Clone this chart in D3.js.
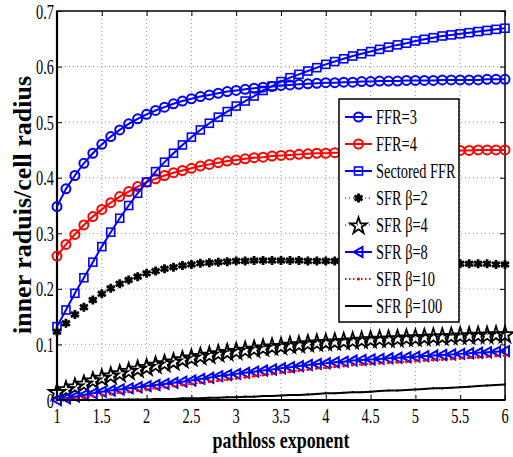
<!DOCTYPE html>
<html>
<head>
<meta charset="utf-8">
<script src="https://cdn.jsdelivr.net/npm/d3@7"></script>
<style>
  body { margin: 0; background: #fff; }
  text { font-family: "Liberation Serif", "Times New Roman", serif; }
</style>
</head>
<body>
<div id="chart"></div>
<script>
const exponents = [1.0, 1.1, 1.2, 1.3, 1.4, 1.5, 1.6, 1.7, 1.8, 1.9, 2.0, 2.1, 2.2, 2.3, 2.4, 2.5, 2.6, 2.7, 2.8, 2.9,
  3.0, 3.1, 3.2, 3.3, 3.4, 3.5, 3.6, 3.7, 3.8, 3.9, 4.0, 4.1, 4.2, 4.3, 4.4, 4.5, 4.6, 4.7, 4.8, 4.9,
  5.0, 5.1, 5.2, 5.3, 5.4, 5.5, 5.6, 5.7, 5.8, 5.9, 6.0];

const ffr3 = [.348, .380, .404, .426, .444, .460, .474, .486, .497, .506, .514, .521, .527, .533, .538, .542, .546, .549, .552, .555,
  .557, .559, .561, .563, .564, .566, .567, .568, .569, .570, .571, .571, .572, .572, .573, .573, .574, .574, .574, .575,
  .575, .575, .575, .576, .576, .576, .576, .576, .577, .577, .577];
const ffr4 = [.259, .280, .298, .315, .330, .343, .355, .366, .375, .384, .392, .398, .404, .409, .413, .417, .421, .424, .427, .430,
  .432, .434, .436, .437, .439, .440, .441, .442, .443, .444, .444, .445, .445, .446, .446, .447, .447, .447, .448, .448,
  .448, .448, .449, .449, .449, .449, .449, .450, .450, .450, .450];
const sectored = [.132, .162, .192, .220, .248, .276, .302, .327, .350, .372, .392, .411, .428, .444, .459, .473, .486, .498, .509, .519,
  .529, .538, .547, .557, .565, .573, .580, .586, .592, .598, .604, .609, .614, .619, .623, .627, .631, .635, .639, .642,
  .646, .649, .652, .655, .657, .659, .661, .663, .665, .667, .669];
const sfr2 = [.123, .138, .154, .167, .180, .191, .201, .209, .216, .222, .228, .232, .236, .239, .242, .244, .246, .247, .248, .249,
  .250, .250, .251, .251, .251, .251, .251, .251, .250, .250, .250, .250, .249, .249, .249, .248, .248, .248, .247, .247,
  .247, .246, .246, .246, .246, .245, .245, .245, .245, .244, .244];
const sfr4 = [.015, .020, .025, .030, .036, .041, .045, .049, .053, .057, .060, .064, .067, .070, .074, .077, .080, .082, .085, .087,
  .089, .091, .093, .095, .097, .098, .100, .101, .103, .104, .105, .106, .107, .108, .109, .110, .111, .111, .112, .113,
  .113, .114, .115, .115, .116, .117, .117, .118, .118, .119, .119];
const sfr8 = [.000, .003, .006, .009, .012, .015, .017, .019, .021, .023, .025, .027, .029, .031, .033, .035, .038, .040, .043, .045,
  .047, .049, .051, .053, .055, .057, .059, .061, .063, .065, .066, .068, .069, .071, .072, .073, .074, .075, .076, .077,
  .078, .079, .080, .081, .082, .083, .084, .085, .086, .087, .088];
const sfr10 = [.000, .001, .003, .005, .007, .009, .011, .013, .015, .017, .019, .021, .023, .025, .027, .029, .031, .033, .035, .037,
  .039, .041, .043, .045, .047, .049, .051, .053, .055, .057, .058, .060, .061, .063, .064, .065, .066, .067, .068, .069,
  .070, .071, .072, .073, .074, .075, .076, .077, .078, .079, .080];
const sfr100 = [.000, .000, .000, .000, .000, .000, .001, .001, .001, .001, .001, .002, .002, .002, .003, .003, .003, .004, .004, .005,
  .005, .006, .006, .007, .007, .008, .009, .009, .010, .011, .012, .012, .013, .014, .014, .015, .016, .017, .017, .018,
  .019, .020, .021, .021, .022, .023, .024, .025, .026, .027, .028];

const seriesNames = ["FFR=3", "FFR=4", "Sectored FFR", "SFR \u03b2=2", "SFR \u03b2=4", "SFR \u03b2=8", "SFR \u03b2=10", "SFR \u03b2=100"];
const xTicks = [1, 1.5, 2, 2.5, 3, 3.5, 4, 4.5, 5, 5.5, 6];
const yTicks = [0, 0.1, 0.2, 0.3, 0.4, 0.5, 0.6, 0.7];

const W = 513, H = 457;
const mLeft = 57, mRight = 505, mTop = 11, mBottom = 400;
const SX = 0.72; // glyphs in the picture are narrower than the font

const svg = d3.select("#chart").append("svg").attr("width", W).attr("height", H);

const x = d3.scaleLinear().domain([1, 6]).range([mLeft, mRight]);
const y = d3.scaleLinear().domain([0, 0.7]).range([mBottom, mTop]);

// grid
const grid = svg.append("g").attr("stroke", "#888").attr("stroke-width", 0.8).attr("stroke-dasharray", "1,3");
grid.selectAll(".gx").data(xTicks.slice(1, -1)).enter().append("line")
  .attr("x1", d => x(d)).attr("x2", d => x(d)).attr("y1", mTop).attr("y2", mBottom);
grid.selectAll(".gy").data(yTicks.slice(1, -1)).enter().append("line")
  .attr("y1", d => y(d)).attr("y2", d => y(d)).attr("x1", mLeft).attr("x2", mRight);

// axes: inward ticks on all sides
const bottomAxis = d3.axisBottom(x).tickValues(xTicks).tickSizeInner(-5).tickSizeOuter(0).tickFormat("");
const topAxis = d3.axisTop(x).tickValues(xTicks).tickSizeInner(-5).tickSizeOuter(0).tickFormat("");
const leftAxis = d3.axisLeft(y).tickValues(yTicks).tickSizeInner(-5).tickSizeOuter(0).tickFormat("");
const rightAxis = d3.axisRight(y).tickValues(yTicks).tickSizeInner(-5).tickSizeOuter(0).tickFormat("");
[[bottomAxis, `translate(0,${mBottom})`], [topAxis, `translate(0,${mTop})`],
 [leftAxis, `translate(${mLeft},0)`], [rightAxis, `translate(${mRight},0)`]].forEach(([ax, tr]) => {
  const g = svg.append("g").attr("transform", tr).call(ax);
  g.select(".domain").remove();
  g.selectAll("line").attr("stroke", "#000").attr("stroke-width", 1);
});

svg.append("rect").attr("x", mLeft).attr("y", mTop).attr("width", mRight - mLeft).attr("height", mBottom - mTop)
  .attr("fill", "none").attr("stroke", "#000").attr("stroke-width", 1.5);
svg.append("line").attr("x1", mLeft).attr("x2", mLeft).attr("y1", mTop).attr("y2", mBottom)
  .attr("stroke", "#000").attr("stroke-width", 2.2);
svg.append("line").attr("x1", mLeft).attr("x2", mRight).attr("y1", mBottom).attr("y2", mBottom)
  .attr("stroke", "#000").attr("stroke-width", 2.2);

// tick labels
svg.selectAll(".xl").data(xTicks).enter().append("text")
  .attr("transform", d => `translate(${x(d)},423) scale(${SX},1)`)
  .attr("text-anchor", "middle").attr("font-size", 20).text(d => d);
svg.selectAll(".yl").data(yTicks).enter().append("text")
  .attr("transform", d => `translate(54,${y(d) + 7.5}) scale(0.7,1)`)
  .attr("text-anchor", "end").attr("font-size", 20.5).text(d => d);

svg.append("text").attr("transform", `translate(${(mLeft + mRight) / 2},448) scale(0.78,1)`)
  .attr("text-anchor", "middle").attr("font-size", 23).attr("font-weight", "bold").text("pathloss exponent");
svg.append("text").attr("transform", `translate(31,205) rotate(-90)`)
  .attr("text-anchor", "middle").attr("font-size", 26).attr("font-weight", "bold").text("inner raduis/cell radius");

// marker shapes
function marker(g, kind, color) {
  if (kind === "circle") {
    g.append("circle").attr("r", 4.5).attr("fill", "none").attr("stroke", color).attr("stroke-width", 2);
  } else if (kind === "square") {
    g.append("rect").attr("x", -4).attr("y", -4).attr("width", 8).attr("height", 8)
      .attr("fill", "none").attr("stroke", color).attr("stroke-width", 1.6);
  } else if (kind === "asterisk") {
    g.append("path").attr("d", "M0,-4.5V4.5M-4,-2.3L4,2.3M-4,2.3L4,-2.3")
      .attr("stroke", color).attr("stroke-width", 2.8).attr("fill", "none");
  } else if (kind === "star") {
    g.append("path").attr("d", d3.symbol(d3.symbolStar, 85)()).attr("transform", "translate(0,1)")
      .attr("fill", "none").attr("stroke", color).attr("stroke-width", 1.8);
  } else if (kind === "tri") {
    g.append("path").attr("d", "M-5,0L4,-5L4,5Z").attr("fill", "none").attr("stroke", color).attr("stroke-width", 2);
  } else if (kind === "dot") {
    g.append("circle").attr("r", 1.5).attr("fill", color);
  } else if (kind === "point") {
    g.append("circle").attr("r", 1.1).attr("fill", color);
  }
}

const series = [
  { name: seriesNames[0], values: ffr3, color: "#0000ff", dash: null, width: 2, mark: "circle" },
  { name: seriesNames[1], values: ffr4, color: "#ff0000", dash: null, width: 2, mark: "circle" },
  { name: seriesNames[2], values: sectored, color: "#0000ff", dash: null, width: 2, mark: "square" },
  { name: seriesNames[3], values: sfr2, color: "#000", dash: "1,3", width: 1, mark: "asterisk" },
  { name: seriesNames[4], values: sfr4, color: "#000", dash: "1,3", width: 1, mark: "star" },
  { name: seriesNames[5], values: sfr8, color: "#0000ff", dash: null, width: 2, mark: "tri" },
  { name: seriesNames[6], values: sfr10, color: "#ff0000", dash: "1.5,2.5", width: 2, mark: "dot" },
  { name: seriesNames[7], values: sfr100, color: "#000", dash: null, width: 2, mark: "point" }
];

const line = d3.line().x((d, i) => x(exponents[i])).y(d => y(d));

series.forEach(s => {
  svg.append("path").datum(s.values).attr("d", line).attr("fill", "none")
    .attr("stroke", s.color).attr("stroke-width", s.width).attr("stroke-dasharray", s.dash);
  svg.append("g").selectAll("g").data(s.values).enter().append("g")
    .attr("transform", (d, i) => `translate(${x(exponents[i])},${y(d)})`)
    .each(function () { marker(d3.select(this), s.mark, s.color); });
});

// legend
const lg = svg.append("g").attr("transform", "translate(339,99)");
lg.append("rect").attr("width", 120).attr("height", 223).attr("fill", "#fff").attr("stroke", "#000").attr("stroke-width", 1.5);
series.forEach((s, i) => {
  const cy = 18 + i * 27;
  lg.append("line").attr("x1", 6).attr("x2", 33).attr("y1", cy).attr("y2", cy)
    .attr("stroke", s.color).attr("stroke-width", s.width).attr("stroke-dasharray", s.dash);
  marker(lg.append("g").attr("transform", `translate(19.5,${cy})`), s.mark, s.color);
  lg.append("text").attr("transform", `translate(37,${cy + 7}) scale(${SX},1)`)
    .attr("font-size", 20).text(s.name);
});
</script>
</body>
</html>
